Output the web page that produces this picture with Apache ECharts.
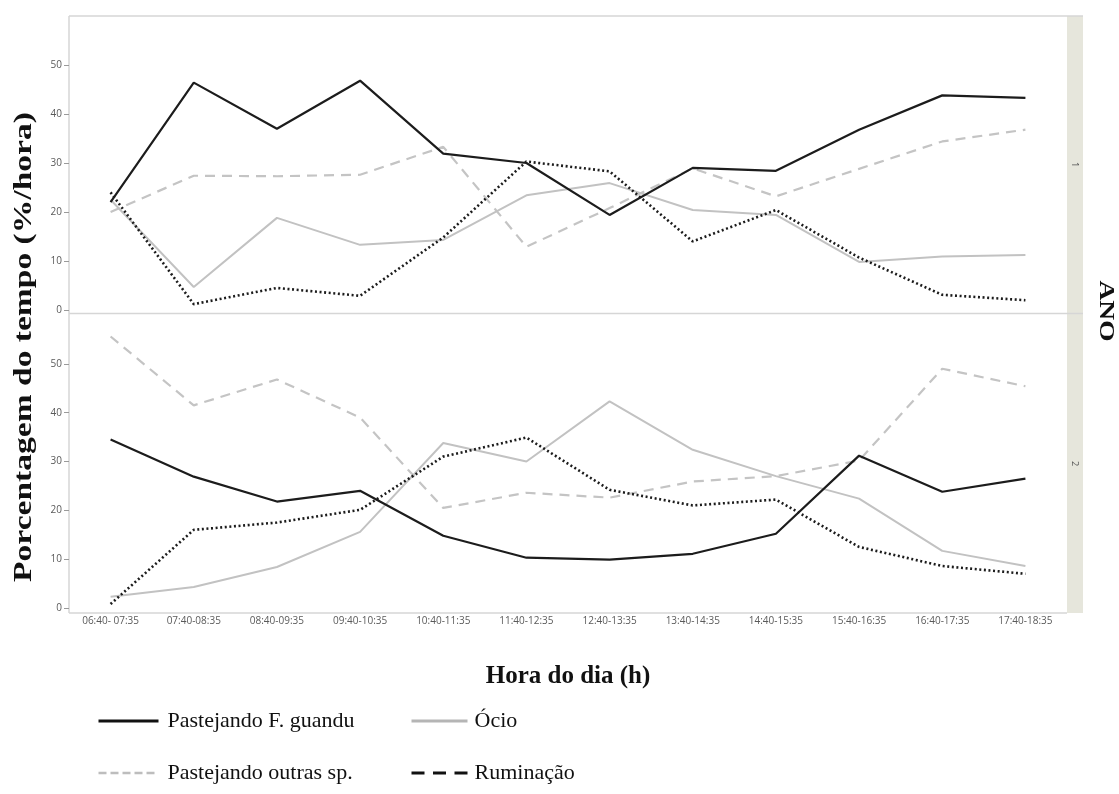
<!DOCTYPE html>
<html>
<head>
<meta charset="utf-8">
<title>Comportamento por hora</title>
<script src="https://cdn.jsdelivr.net/npm/echarts@6/dist/echarts.min.js"></script>
<style>
  html, body { margin: 0; padding: 0; background: #fff; }
  #chart { width: 1119px; height: 794px; }
</style>
</head>
<body>
<div id="chart"></div>
<script>
// categorias do eixo x
var horas = ['06:40- 07:35', '07:40-08:35', '08:40-09:35', '09:40-10:35', '10:40-11:35', '11:40-12:35',
  '12:40-13:35', '13:40-14:35', '14:40-15:35', '15:40-16:35', '16:40-17:35', '17:40-18:35'];

var yTicks = [0, 10, 20, 30, 40, 50, 60];

// ANO 1
var guandu1 = [22.0, 46.4, 37.0, 46.8, 31.9, 30.0, 19.4, 29.0, 28.4, 36.8, 43.8, 43.3];
var outras1 = [20.0, 27.4, 27.3, 27.6, 33.3, 12.9, 20.8, 28.9, 23.2, 28.8, 34.4, 36.8];
var ocio1 = [22.5, 4.7, 18.8, 13.3, 14.3, 23.4, 25.9, 20.4, 19.4, 9.8, 10.9, 11.2];
var rumin1 = [24.0, 1.2, 4.5, 2.9, 14.8, 30.3, 28.3, 14.0, 20.4, 10.7, 3.1, 2.0];

// ANO 2
var guandu2 = [34.5, 26.9, 21.8, 24.0, 14.8, 10.3, 9.9, 11.1, 15.2, 31.2, 23.8, 26.5];
var outras2 = [55.6, 41.5, 46.8, 39.0, 20.5, 23.6, 22.6, 25.9, 27.0, 30.2, 49.0, 45.4];
var ocio2 = [2.3, 4.3, 8.4, 15.6, 33.8, 30.0, 42.3, 32.4, 27.0, 22.4, 11.7, 8.6];
var rumin2 = [0.8, 16.0, 17.5, 20.1, 31.0, 34.9, 24.2, 21.0, 22.2, 12.5, 8.6, 7.0];

var nomes = ['Pastejando F. guandu', 'Pastejando outras sp.', 'Ócio', 'Ruminação'];

var frameColor = '#d6d6d6';
var stripColor = '#e6e6dc';
var tickFont = { color: '#5a5a5a', fontSize: 10, fontFamily: 'Open Sans' };
var serif = 'Liberation Serif';

function yAxisDef(idx) {
  return {
    type: 'value', gridIndex: idx, min: yTicks[0], max: yTicks[yTicks.length - 1], interval: 10,
    axisLine: { show: false },
    axisTick: { show: true, length: 5, lineStyle: { color: '#9a9a9a' } },
    axisLabel: Object.assign({ margin: 7, showMaxLabel: false }, tickFont),
    splitLine: { show: false }
  };
}

function linha(nome, dados, idx, estilo) {
  return {
    name: nome, type: 'line', xAxisIndex: idx, yAxisIndex: idx,
    data: dados, symbol: 'none', silent: true,
    itemStyle: { color: estilo.color },
    lineStyle: estilo
  };
}

var sGuandu = { color: '#1c1c1c', width: 2.2, type: 'solid' };
var sOutras = { color: '#c4c4c4', width: 2.2, type: [10, 7] };
var sOcio = { color: '#c2c2c2', width: 2, type: 'solid' };
var sRumin = { color: '#1c1c1c', width: 2.6, type: [2, 2.6] };

var legendText = { fontFamily: serif, fontSize: 22, color: '#111' };

var chart = echarts.init(document.getElementById('chart'));

var option = {
  animation: false,
  grid: [
    { left: 69, right: 52, top: 16, height: 294 },
    { left: 69, right: 52, top: 315, height: 293 }
  ],
  xAxis: [
    { type: 'category', gridIndex: 0, data: horas, show: false },
    {
      type: 'category', gridIndex: 1, data: horas,
      axisLine: { show: false }, axisTick: { show: false },
      axisLabel: Object.assign({ margin: 8, interval: 0 }, tickFont),
      name: 'Hora do dia (h)', nameLocation: 'middle', nameGap: 56,
      nameTextStyle: { fontFamily: serif, fontWeight: 'bold', fontSize: 25, color: '#111' }
    }
  ],
  yAxis: [yAxisDef(0), yAxisDef(1)],
  legend: [
    {
      orient: 'vertical', left: 97, top: 710, padding: 0, itemWidth: 60, itemHeight: 22, itemGap: 30,
      textStyle: Object.assign({ padding: [0, 0, 0, 4] }, legendText),
      itemStyle: { opacity: 0 },
      selectedMode: false,
      data: [
        { name: nomes[0], lineStyle: { width: 3, type: 'solid', color: '#111' } },
        { name: nomes[1], lineStyle: { width: 2.5, type: [8, 4], color: '#bdbdbd' } }
      ]
    },
    {
      orient: 'vertical', left: 410, top: 710, padding: 0, itemWidth: 56, itemHeight: 22, itemGap: 30,
      textStyle: Object.assign({ padding: [0, 0, 0, 2] }, legendText),
      itemStyle: { opacity: 0 },
      selectedMode: false,
      data: [
        { name: nomes[2], lineStyle: { width: 3, type: 'solid', color: '#b5b5b5' } },
        { name: nomes[3], lineStyle: { width: 3, type: [13, 8.5], color: '#111' } }
      ]
    }
  ],
  graphic: [
    // molduras dos painéis e faixas laterais
    { type: 'rect', shape: { x: 1067, y: 16, width: 16, height: 297 }, style: { fill: stripColor }, z: -1 },
    { type: 'rect', shape: { x: 1067, y: 314, width: 16, height: 299 }, style: { fill: stripColor }, z: -1 },
    { type: 'line', shape: { x1: 69, y1: 16, x2: 1083, y2: 16 }, style: { stroke: frameColor, lineWidth: 1.5 } },
    { type: 'line', shape: { x1: 69, y1: 313.5, x2: 1083, y2: 313.5 }, style: { stroke: frameColor, lineWidth: 1.5 } },
    { type: 'line', shape: { x1: 69, y1: 613, x2: 1067, y2: 613 }, style: { stroke: frameColor, lineWidth: 1.5 } },
    { type: 'line', shape: { x1: 69, y1: 16, x2: 69, y2: 613 }, style: { stroke: frameColor, lineWidth: 1.5 } },
    {
      type: 'text', x: 1075, y: 164.5, rotation: -Math.PI / 2,
      style: { text: '1', fill: '#555', font: '9px "Open Sans"', align: 'center', verticalAlign: 'middle' }
    },
    {
      type: 'text', x: 1075, y: 463.5, rotation: -Math.PI / 2,
      style: { text: '2', fill: '#555', font: '9px "Open Sans"', align: 'center', verticalAlign: 'middle' }
    },
    {
      type: 'text', x: 1106, y: 311, rotation: -Math.PI / 2, scaleX: 1.25,
      style: { text: 'ANO', fill: '#111', font: 'bold 22px "Liberation Serif"', align: 'center', verticalAlign: 'middle' }
    },
    {
      type: 'text', x: 24, y: 347, rotation: Math.PI / 2, scaleX: 1.29,
      style: { text: 'Porcentagem do tempo (%/hora)', fill: '#111', font: 'bold 26px "Liberation Serif"', align: 'center', verticalAlign: 'middle' }
    }
  ],
  series: [
    linha(nomes[1], outras1, 0, sOutras),
    linha(nomes[2], ocio1, 0, sOcio),
    linha(nomes[3], rumin1, 0, sRumin),
    linha(nomes[0], guandu1, 0, sGuandu),
    linha(nomes[1], outras2, 1, sOutras),
    linha(nomes[2], ocio2, 1, sOcio),
    linha(nomes[3], rumin2, 1, sRumin),
    linha(nomes[0], guandu2, 1, sGuandu)
  ]
};

chart.setOption(option);
</script>
</body>
</html>
